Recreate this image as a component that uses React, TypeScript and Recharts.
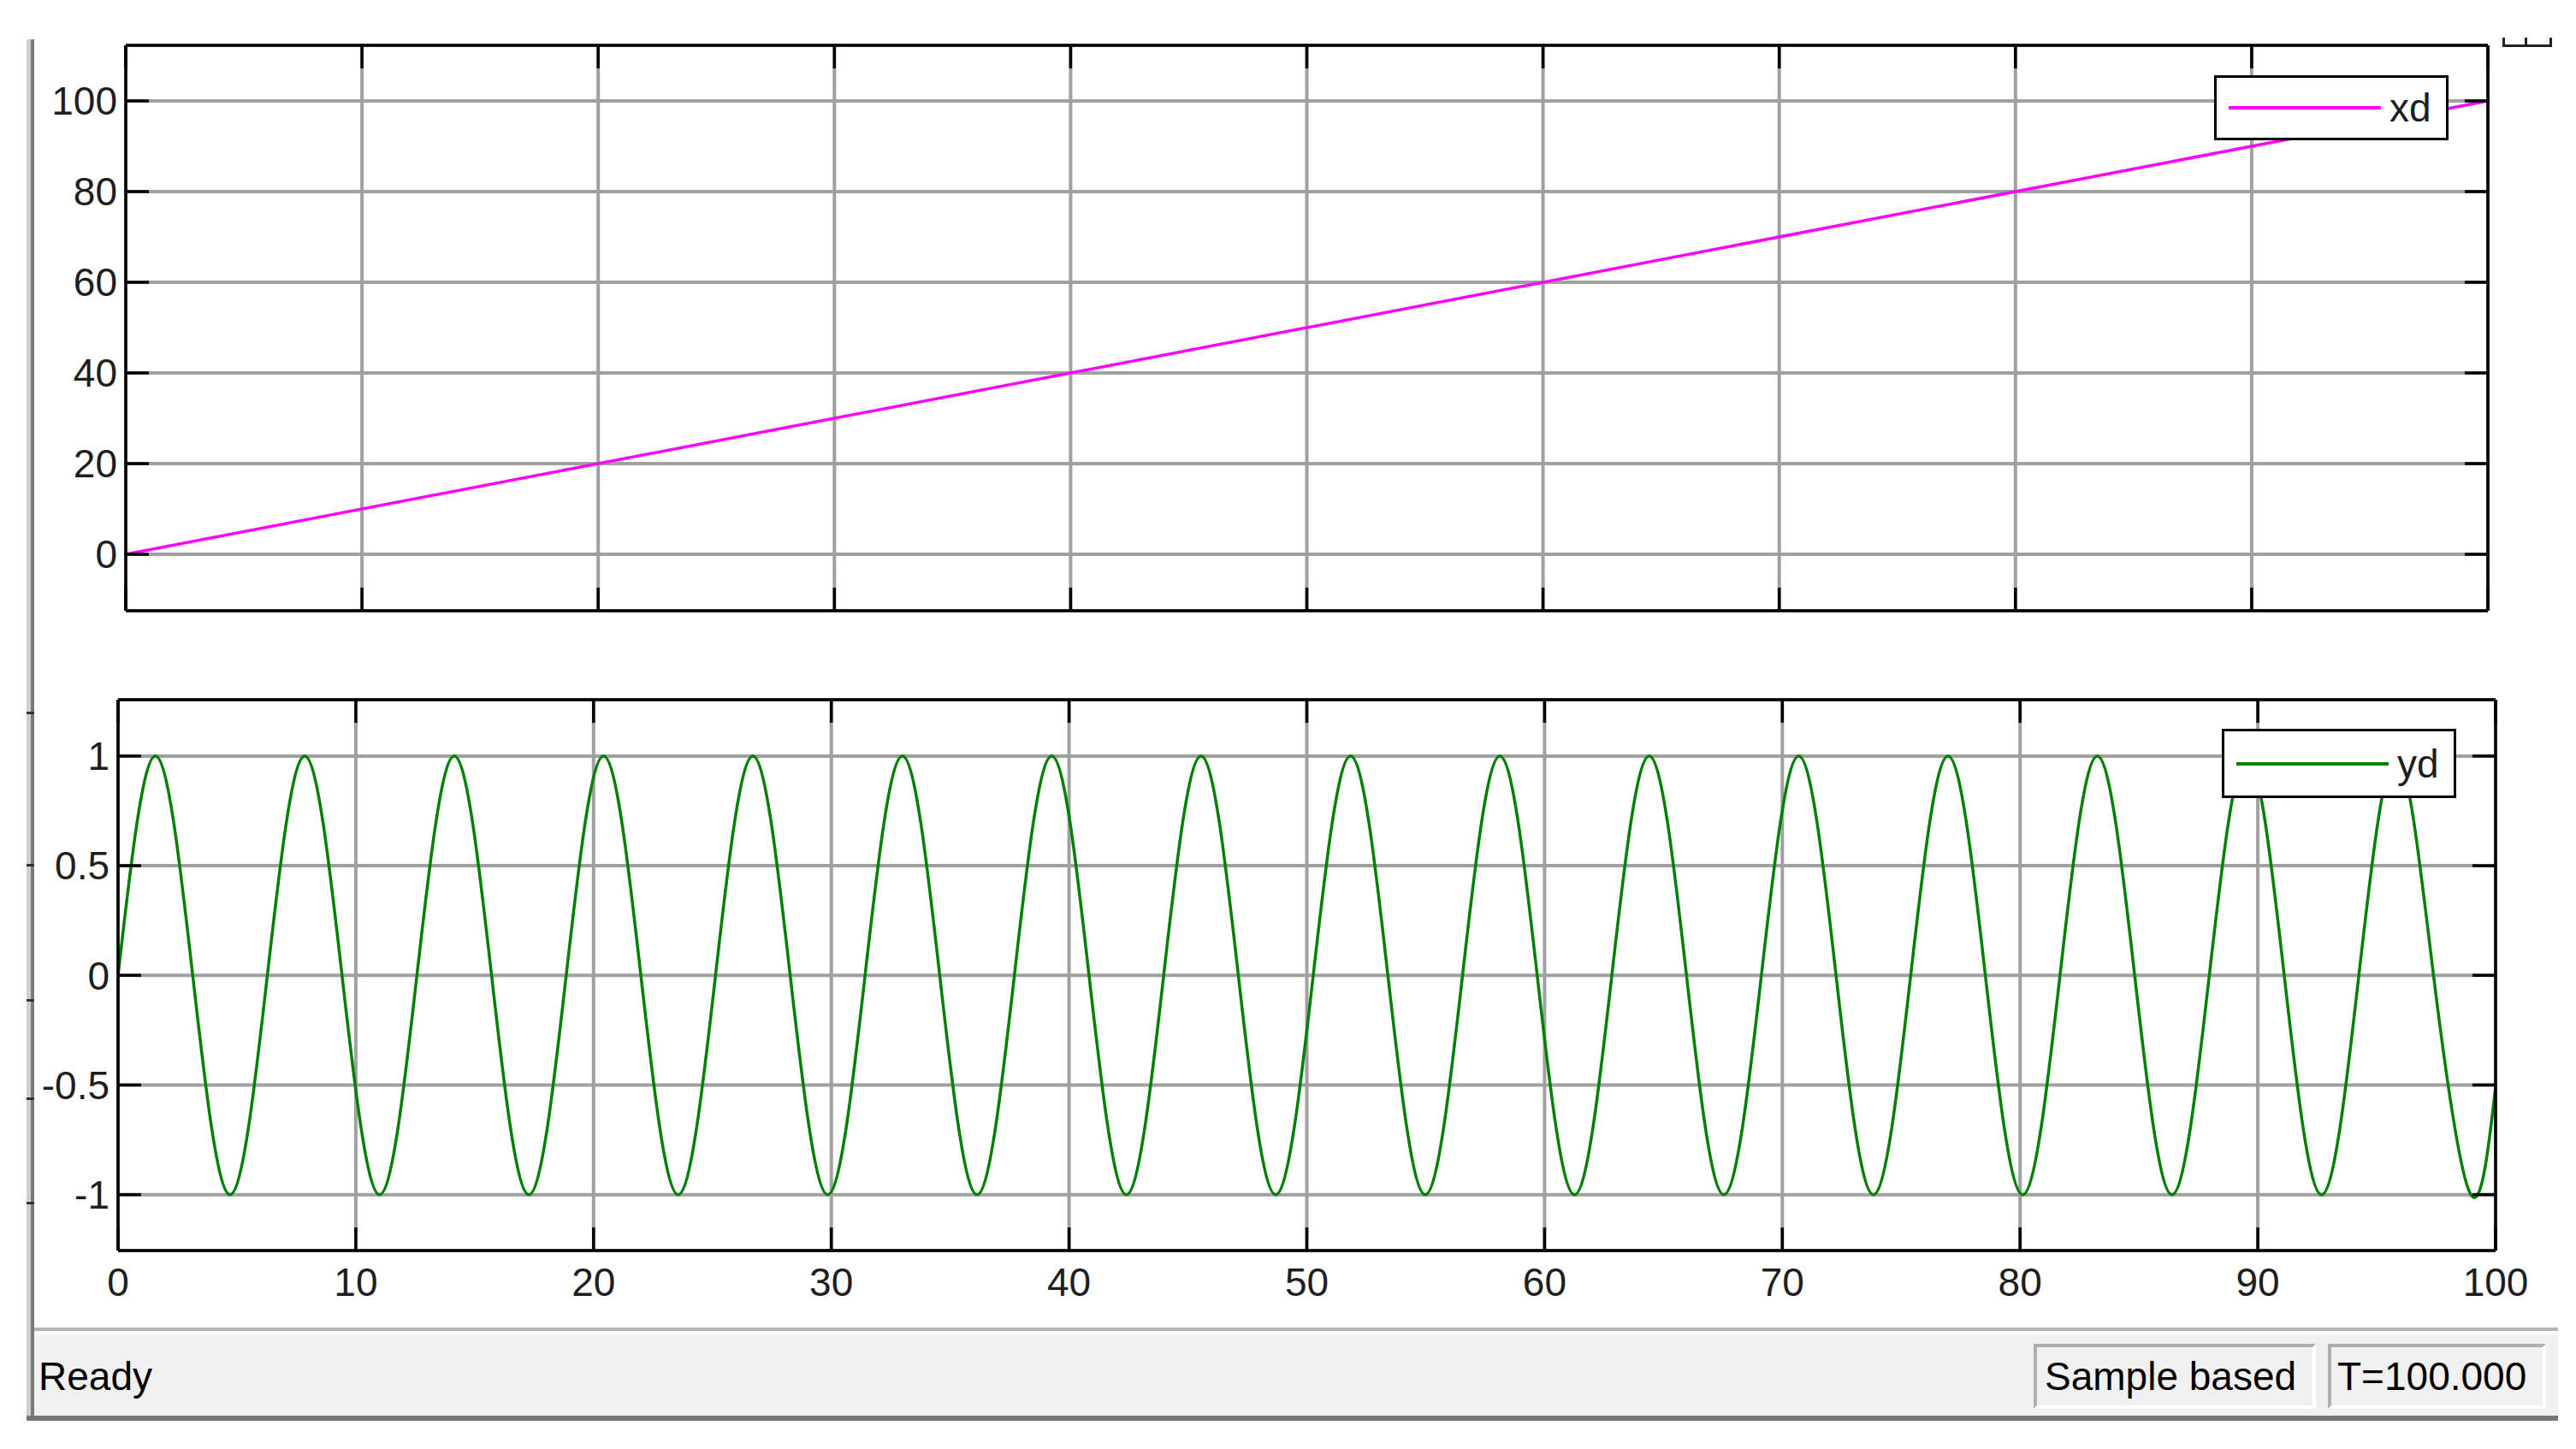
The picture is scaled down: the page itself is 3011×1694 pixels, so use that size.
import React from 'react';
import { CartesianGrid, Legend, Line, LineChart, XAxis, YAxis } from 'recharts';

// time axis shared by both scopes
const timeTicks = [0, 10, 20, 30, 40, 50, 60, 70, 80, 90, 100];

// upper scope: xd (ramp)
const xdTime = [0, 100];
const xdValue = [0, 100];
const xdTicks = [0, 20, 40, 60, 80, 100];

// lower scope: yd, read at peaks / zero crossings / troughs
const ydTime = [
    0, 1.57, 3.14, 4.71, 6.28, 7.85, 9.42, 11.0, 12.57, 14.14, 15.71, 17.28, 18.85, 20.42, 21.99, 23.56,
    25.13, 26.7, 28.27, 29.85, 31.42, 32.99, 34.56, 36.13, 37.7, 39.27, 40.84, 42.41, 43.98, 45.55, 47.12, 48.69,
    50.27, 51.84, 53.41, 54.98, 56.55, 58.12, 59.69, 61.26, 62.83, 64.4, 65.97, 67.54, 69.12, 70.69, 72.26, 73.83,
    75.4, 76.97, 78.54, 80.11, 81.68, 83.25, 84.82, 86.39, 87.96, 89.54, 91.11, 92.68, 94.25, 95.82, 97.39, 98.96,
    100,
];
const ydValue = [
    0, 1, 0, -1, 0, 1, 0, -1, 0, 1, 0, -1, 0, 1, 0, -1,
    0, 1, 0, -1, 0, 1, 0, -1, 0, 1, 0, -1, 0, 1, 0, -1,
    0, 1, 0, -1, 0, 1, 0, -1, 0, 1, 0, -1, 0, 1, 0, -1,
    0, 1, 0, -1, 0, 1, 0, -1, 0, 1, 0, -1, 0, 1, 0, -1,
    -0.51,
];
const ydTicks = [-1, -0.5, 0, 0.5, 1];

const xdData = xdTime.map((t, i) => ({ t, xd: xdValue[i] }));
const ydData = ydTime.map((t, i) => ({ t, yd: ydValue[i] }));

const FONT = '"Liberation Sans", Arial, sans-serif';
const GRID = '#a0a0a0';
const TICK = { fill: '#1e1e1e', fontSize: 46, fontFamily: FONT };
const axisLine = { stroke: '#000', strokeWidth: 3.5 };
const tickLine = { stroke: '#000', strokeWidth: 3.5 };
// keeps the tick marks / grid, draws no label
const NoLabel = () => <g />;

const ScopeLegend = ({ name, color }: { name: string; color: string }) => (
    <div
        style={{
            boxSizing: 'border-box',
            width: 274,
            height: '100%',
            border: '3px solid #000',
            background: '#fff',
            position: 'relative',
            fontFamily: FONT,
        }}
    >
        <div style={{ position: 'absolute', left: 14, top: '50%', width: 178, height: 4, marginTop: -2, background: color }} />
        <div style={{ position: 'absolute', left: 202, top: 0, bottom: 0, display: 'flex', alignItems: 'center', fontSize: 46, color: '#1e1e1e' }}>
            {name}
        </div>
    </div>
);

const App = () => {
    return (
        <div style={{ position: 'absolute', left: 0, top: 0, width: 3011, height: 1694, background: '#fff', overflow: 'hidden', fontFamily: FONT }}>
            {/* window frame, left */}
            <div style={{ position: 'absolute', left: 31, top: 46, width: 5, height: 1615, background: '#cfcfcf' }} />
            <div style={{ position: 'absolute', left: 36, top: 46, width: 4, height: 1615, background: '#7a7a7a' }} />
            {[832, 1010, 1168, 1283, 1405].map((y) => (
                <div key={y} style={{ position: 'absolute', left: 31, top: y, width: 9, height: 3, background: '#333' }} />
            ))}
            {/* little corner mark top right */}
            <div style={{ position: 'absolute', left: 2925, top: 44, width: 52, height: 8, border: '3px solid #222', borderTop: 'none' }} />
            <div style={{ position: 'absolute', left: 2951, top: 44, width: 3, height: 8, background: '#222' }} />

            <div style={{ position: 'absolute', left: 0, top: 0 }}>
                <LineChart width={3011} height={760} data={xdData} margin={{ top: 52, right: 102, bottom: 45, left: 0 }}>
                    <CartesianGrid stroke={GRID} strokeWidth={4} />
                    <XAxis dataKey="t" type="number" domain={[0, 100]} ticks={timeTicks} interval={0} allowDataOverflow
                        height={1} tick={NoLabel} axisLine={axisLine} tickLine={tickLine} tickSize={-27} />
                    <XAxis xAxisId="top" dataKey="t" orientation="top" type="number" domain={[0, 100]} ticks={timeTicks} interval={0} allowDataOverflow
                        height={1} tick={NoLabel} axisLine={axisLine} tickLine={tickLine} tickSize={-27} />
                    <YAxis type="number" domain={[-12.45, 112.26]} ticks={xdTicks} interval={0} allowDataOverflow
                        width={147} tick={TICK} axisLine={axisLine} tickLine={tickLine} tickSize={-27} tickMargin={37} />
                    <YAxis yAxisId="right" orientation="right" type="number" domain={[-12.45, 112.26]} ticks={xdTicks} interval={0} allowDataOverflow
                        width={1} tick={NoLabel} axisLine={axisLine} tickLine={tickLine} tickSize={-27} />
                    <Line dataKey="xd" type="linear" stroke="#ff00ff" strokeWidth={3.5} dot={false} isAnimationActive={false} />
                    <Legend layout="vertical" align="center" verticalAlign="middle"
                        wrapperStyle={{ left: 2588, top: 88, width: 274, height: 76 }}
                        content={() => <ScopeLegend name="xd" color="#ff00ff" />} />
                </LineChart>
            </div>

            <div style={{ position: 'absolute', left: 0, top: 760 }}>
                <LineChart width={3011} height={790} data={ydData} margin={{ top: 57, right: 93, bottom: 0, left: 0 }}>
                    <CartesianGrid stroke={GRID} strokeWidth={4} />
                    <XAxis dataKey="t" type="number" domain={[0, 100]} ticks={timeTicks} interval={0} allowDataOverflow
                        height={88} tick={TICK} axisLine={axisLine} tickLine={tickLine} tickSize={-27} tickMargin={47} />
                    <XAxis xAxisId="top" dataKey="t" orientation="top" type="number" domain={[0, 100]} ticks={timeTicks} interval={0} allowDataOverflow
                        height={1} tick={NoLabel} axisLine={axisLine} tickLine={tickLine} tickSize={-27} />
                    <YAxis type="number" domain={[-1.255, 1.257]} ticks={ydTicks} interval={0} allowDataOverflow
                        width={138} tick={TICK} axisLine={axisLine} tickLine={tickLine} tickSize={-27} tickMargin={37} />
                    <YAxis yAxisId="right" orientation="right" type="number" domain={[-1.255, 1.257]} ticks={ydTicks} interval={0} allowDataOverflow
                        width={1} tick={NoLabel} axisLine={axisLine} tickLine={tickLine} tickSize={-27} />
                    <Line dataKey="yd" type="natural" stroke="#008000" strokeWidth={3.5} dot={false} isAnimationActive={false} />
                    <Legend layout="vertical" align="center" verticalAlign="middle"
                        wrapperStyle={{ left: 2597, top: 92, width: 274, height: 81 }}
                        content={() => <ScopeLegend name="yd" color="#008000" />} />
                </LineChart>
            </div>

            {/* status bar */}
            <div style={{ position: 'absolute', left: 40, top: 1552, width: 2950, height: 4, background: '#b4b4b4' }} />
            <div style={{ position: 'absolute', left: 40, top: 1556, width: 2950, height: 4, background: '#fbfbfb' }} />
            <div style={{ position: 'absolute', left: 40, top: 1560, width: 2950, height: 96, background: '#f0f0f0' }} />
            <div style={{ position: 'absolute', left: 31, top: 1655, width: 2959, height: 6, background: '#777' }} />
            <div style={{ position: 'absolute', left: 45, top: 1586, fontSize: 46, lineHeight: '46px', color: '#000' }}>Ready</div>
            <div style={{ position: 'absolute', left: 2377, top: 1571, width: 330, height: 76, boxSizing: 'border-box',
                borderTop: '4px solid #b0b0b0', borderLeft: '4px solid #b0b0b0', borderRight: '4px solid #fff', borderBottom: '4px solid #fff' }}>
                <div style={{ position: 'absolute', left: 9, top: 11, fontSize: 46, lineHeight: '46px', color: '#000', whiteSpace: 'nowrap' }}>Sample based</div>
            </div>
            <div style={{ position: 'absolute', left: 2721, top: 1571, width: 255, height: 76, boxSizing: 'border-box',
                borderTop: '4px solid #b0b0b0', borderLeft: '4px solid #b0b0b0', borderRight: '4px solid #fff', borderBottom: '4px solid #fff' }}>
                <div style={{ position: 'absolute', left: 7, top: 11, fontSize: 46, lineHeight: '46px', color: '#000', whiteSpace: 'nowrap' }}>T=100.000</div>
            </div>
        </div>
    );
};

export default App;
